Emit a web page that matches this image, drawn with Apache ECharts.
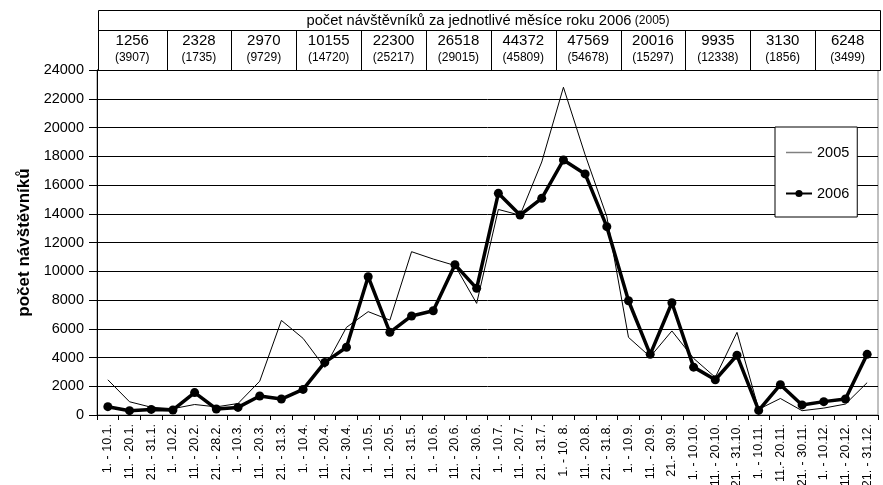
<!DOCTYPE html>
<html>
<head>
<meta charset="utf-8">
<script src="https://cdn.jsdelivr.net/npm/echarts@6/dist/echarts.min.js"></script>
<style>
  html, body { margin: 0; padding: 0; background: #fff; }
  #chart { width: 883px; height: 485px; }
</style>
</head>
<body>
<div id="chart"></div>
<script>
// Ten-day periods of the year
const categories = [
  '1. - 10.1.', '11. - 20.1.', '21. - 31.1.',
  '1. - 10.2.', '11. - 20.2.', '21. - 28.2.',
  '1. - 10.3.', '11. - 20.3.', '21. - 31.3.',
  '1. - 10.4.', '11. - 20.4.', '21. - 30.4.',
  '1. - 10.5.', '11. - 20.5.', '21. - 31.5.',
  '1. - 10.6.', '11. - 20.6.', '21. - 30.6.',
  '1. - 10.7.', '11. - 20.7.', '21. - 31.7.',
  '1. - 10. 8.', '11. - 20.8.', '21. - 31.8.',
  '1. - 10.9.', '11. - 20.9.', '21.- 30.9.',
  '1. - 10.10.', '11. - 20.10.', '21. - 31.10.',
  '1. - 10.11.', '11.- 20.11.', '21. - 30.11.',
  '1. - 10.12.', '11. - 20.12.', '21. - 31.12.'
];

// Visitors per ten-day period
const visitors2005 = [
  2450, 920, 540, 440, 730, 565, 800, 2350, 6580, 5330, 3310, 6100,
  7190, 6600, 11360, 10850, 10400, 7765, 14300, 13900, 17600, 22800, 18100, 13800,
  5400, 4050, 5847, 3940, 2620, 5750, 400, 1150, 300, 480, 760, 2250
];
const visitors2006 = [
  580, 300, 390, 350, 1560, 420, 530, 1320, 1110, 1780, 3660, 4710,
  9620, 5750, 6890, 7250, 10460, 8810, 15420, 13910, 15070, 17740, 16770, 13100,
  7950, 4220, 7810, 3330, 2450, 4155, 320, 2110, 700, 930, 1110, 4220
];

// Monthly totals shown in the header table
const monthly2006 = [1256, 2328, 2970, 10155, 22300, 26518, 44372, 47569, 20016, 9935, 3130, 6248];
const monthly2005 = [3907, 1735, 9729, 14720, 25217, 29015, 45809, 54678, 15297, 12338, 1856, 3499];

const tableTitle = 'počet návštěvníků za jednotlivé měsíce roku 2006';
const tableTitleNote = '(2005)';
const axisName = 'počet návštěvníků';
const seriesNames = ['2005', '2006'];

const FONT = '"Liberation Sans", Arial, sans-serif';

// Header table geometry
const TABLE = { left: 98, right: 880, top: 10, mid: 30, bottom: 70, firstCol: 68.5 };

function buildTable() {
  const children = [];
  const w = TABLE.right - TABLE.left;
  const n = monthly2006.length;
  const restW = (w - TABLE.firstCol) / (n - 1);
  const colX = i => (i === 0 ? TABLE.left : TABLE.left + TABLE.firstCol + (i - 1) * restW);
  const colW = i => (i === 0 ? TABLE.firstCol : restW);
  children.push({
    type: 'rect',
    shape: { x: TABLE.left + 0.5, y: TABLE.top + 0.5, width: w, height: TABLE.bottom - TABLE.top },
    style: { fill: '#fff', stroke: '#000', lineWidth: 1 }
  });
  children.push({
    type: 'line',
    shape: { x1: TABLE.left, y1: TABLE.mid + 0.5, x2: TABLE.right, y2: TABLE.mid + 0.5 },
    style: { stroke: '#000', lineWidth: 1 }
  });
  children.push({
    type: 'text',
    x: (TABLE.left + TABLE.right) / 2 - 1,
    y: (TABLE.top + TABLE.mid) / 2 + 1,
    style: {
      text: '{a|' + tableTitle + '} {b|' + tableTitleNote + '}',
      align: 'center', verticalAlign: 'middle',
      rich: {
        a: { fontSize: 14.7, fontFamily: FONT, fill: '#000' },
        b: { fontSize: 12, fontFamily: FONT, fill: '#000' }
      }
    }
  });
  monthly2006.forEach((v, i) => {
    const x0 = colX(i);
    const cx = x0 + colW(i) / 2;
    if (i > 0) {
      const xl = Math.round(x0) + 0.5;
      children.push({
        type: 'line',
        shape: { x1: xl, y1: TABLE.mid, x2: xl, y2: TABLE.bottom },
        style: { stroke: '#000', lineWidth: 1 }
      });
    }
    children.push({
      type: 'text',
      x: cx, y: 41,
      style: { text: String(v), align: 'center', verticalAlign: 'middle', fontSize: 15, fontFamily: FONT, fill: '#000' }
    });
    children.push({
      type: 'text',
      x: cx, y: 58,
      style: { text: '(' + monthly2005[i] + ')', align: 'center', verticalAlign: 'middle', fontSize: 12, fontFamily: FONT, fill: '#000' }
    });
  });
  return [{ type: 'group', children: children, z: 100 }];
}

const chart = echarts.init(document.getElementById('chart'), null, { renderer: 'canvas' });

chart.setOption({
  backgroundColor: '#fff',
  animation: false,
  textStyle: { fontFamily: FONT },
  grid: {
    left: 97, right: 5, top: 70, bottom: 70,
    outerBoundsMode: 'none',
    containLabel: false,
    show: true, borderColor: '#808080', borderWidth: 1, backgroundColor: 'transparent'
  },
  legend: {
    orient: 'vertical',
    left: 775, top: 127,
    padding: [18, 8, 16, 10],
    itemGap: 26,
    itemWidth: 26, itemHeight: 9,
    backgroundColor: '#fff',
    borderColor: '#000', borderWidth: 1, borderRadius: 0,
    textStyle: { fontSize: 14.5, color: '#000', fontFamily: FONT },
    data: [
      { name: seriesNames[0], itemStyle: { opacity: 0 }, lineStyle: { color: '#808080', width: 1.5 } },
      { name: seriesNames[1] }
    ]
  },
  xAxis: {
    type: 'category',
    data: categories,
    boundaryGap: true,
    axisLine: { lineStyle: { color: '#000', width: 1 } },
    axisTick: { show: true, length: 5, inside: false, lineStyle: { color: '#000' } },
    axisLabel: { rotate: 90, interval: 0, fontSize: 12.5, color: '#000', margin: 9, fontFamily: FONT, hideOverlap: false },
    splitLine: { show: false }
  },
  yAxis: {
    type: 'value',
    min: 0, max: 24000, interval: 2000,
    name: axisName,
    nameLocation: 'middle',
    nameGap: 61,
    nameTextStyle: { fontSize: 17, fontWeight: 'bold', color: '#000', fontFamily: FONT },
    axisLine: { show: true, lineStyle: { color: '#000', width: 1 } },
    axisTick: { show: true, length: 8, lineStyle: { color: '#000' } },
    axisLabel: { fontSize: 14.5, color: '#000', margin: 13, fontFamily: FONT, formatter: v => String(v) },
    splitLine: { show: true, lineStyle: { color: '#000', width: 1 } }
  },
  series: [
    {
      name: seriesNames[0],
      type: 'line',
      data: visitors2005,
      symbol: 'none',
      color: '#000',
      lineStyle: { color: '#000', width: 1 },
      itemStyle: { color: '#000' },
      z: 2
    },
    {
      name: seriesNames[1],
      type: 'line',
      data: visitors2006,
      symbol: 'circle',
      symbolSize: 9,
      color: '#000',
      lineStyle: { color: '#000', width: 3.5 },
      itemStyle: { color: '#000' },
      z: 3
    }
  ],
  graphic: buildTable()
});
</script>
</body>
</html>
